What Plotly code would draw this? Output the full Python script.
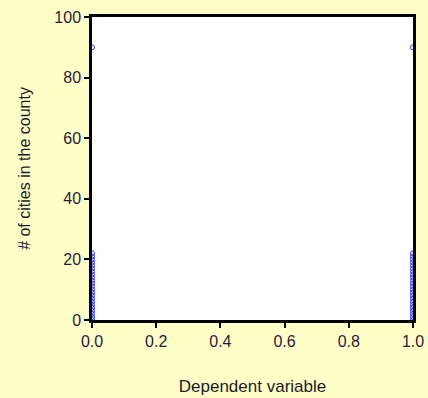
import plotly.graph_objects as go

# Dependent variable (0/1) and number of cities in the county
dep_var = [0]*24 + [1]*24
n_cities = list(range(0, 23)) + [90] + list(range(0, 23)) + [90]

x_ticks = [0.0, 0.2, 0.4, 0.6, 0.8, 1.0]
x_tick_labels = ["0.0", "0.2", "0.4", "0.6", "0.8", "1.0"]
y_ticks = [0, 20, 40, 60, 80, 100]

FONT = "Liberation Sans, Arial"
fig = go.Figure()
fig.add_trace(go.Scatter(
    x=dep_var, y=n_cities, mode="markers",
    marker=dict(symbol="circle-open", size=5, color="#3030ff", line=dict(width=1)),
    cliponaxis=True, showlegend=False,
))

axis_common = dict(
    showgrid=False, zeroline=False, showline=True, linecolor="black", linewidth=2.5,
    mirror=True, ticks="outside", ticklen=5, tickcolor="black", tickwidth=1.5,
    tickfont=dict(family=FONT, size=16, color="#2a1a3a"), automargin=False,
)
fig.update_xaxes(range=[0, 1], tickvals=x_ticks, ticktext=x_tick_labels,
                 title=dict(text="Dependent variable", standoff=32,
                            font=dict(family=FONT, size=17, color="#1a1a2a")),
                 **axis_common)
fig.update_yaxes(range=[0, 100], tickvals=y_ticks,
                 title=dict(text="# of cities in the county", standoff=20,
                            font=dict(family=FONT, size=16, color="#1a1a2a")),
                 **axis_common)
fig.update_layout(
    width=428, height=398,
    margin=dict(l=92, r=15, t=17, b=78),
    paper_bgcolor="#FFFFC8", plot_bgcolor="white",
)
fig.write_html("out.html", config={"displayModeBar": False}, post_script=(
    "document.body.style.margin='0';document.body.style.background='#FFFFC8';"
))
